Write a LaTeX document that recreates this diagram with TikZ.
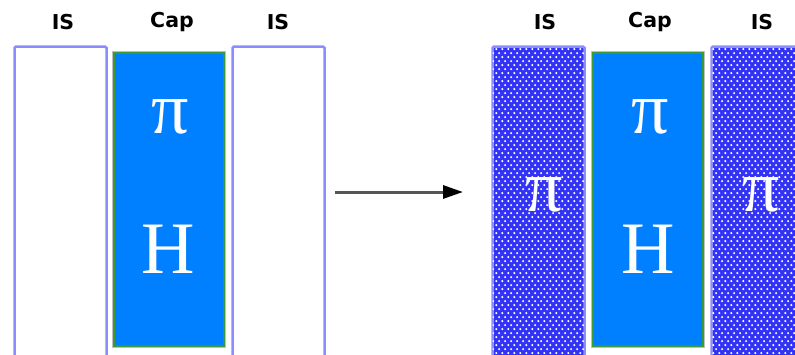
\documentclass[tikz,border=0pt]{standalone}
\usepackage{fontspec}
\usetikzlibrary{patterns,arrows.meta}
\newfontfamily\labelfont{DejaVu Sans}
\newfontfamily\glyphfont{Liberation Serif}
\definecolor{isedge}{HTML}{8C8CFF}
\definecolor{isfill}{HTML}{3333F5}
\definecolor{capfill}{HTML}{0080FF}
\definecolor{capedge}{HTML}{3A9A3A}
\definecolor{arrowgray}{HTML}{555555}

% staggered white dot grid for the filled IS layers
\pgfdeclarepatternformonly{isdots}{\pgfpoint{0pt}{0pt}}{\pgfpoint{6.2pt}{8.4pt}}{\pgfpoint{6.2pt}{8.4pt}}{%
  \pgfpathcircle{\pgfpoint{1.5pt}{2.1pt}}{1.25pt}%
  \pgfpathcircle{\pgfpoint{4.6pt}{6.3pt}}{1.25pt}%
  \pgfusepath{fill}}

\tikzset{
  isbox/.style={draw=isedge, line width=2.5pt, rounded corners=1.5pt, fill=white,
    minimum width=92pt, minimum height=318pt, inner sep=0pt, anchor=north west},
  isdotted/.style={isbox, fill=isfill, postaction={pattern=isdots, pattern color=white}},
  capbox/.style={draw=capedge, line width=2pt, fill=capfill,
    minimum width=110pt, minimum height=293pt, inner sep=0pt, anchor=north west,
    preaction={draw=black!25, line width=4pt}},
  head/.style={font=\labelfont\bfseries\fontsize{20.5}{20.5}\selectfont, inner sep=0pt},
  glyph/.style={font=\glyphfont\fontsize{74}{74}\selectfont, text=white, inner sep=0pt},
  flow/.style={draw=arrowgray, line width=3pt, -{Triangle[length=20pt,width=13pt,fill=black,color=black]}}
}

\begin{document}
\begin{tikzpicture}[x=1pt,y=-1pt]
  \useasboundingbox (0,0) rectangle (795,354);

  % before: plain interlayers around the cap
  \node[isbox]  (isA)  at (13.25,45.25) {};
  \node[capbox] (capA) at (113,52) {};
  \node[isbox]  (isB)  at (231.25,45.25) {};

  \node[head] (hIsA)  at (63,22)  {IS};
  \node[head] (hCapA) at (172,22) {Cap};
  \node[head] (hIsB)  at (278,22) {IS};

  \node[glyph] (piA) at (170,117) {π};
  \node[glyph] (hA)  at (168,249) {H};

  % after: interlayers filled
  \node[isdotted] (isC)  at (491.25,45.25) {};
  \node[capbox]   (capC) at (592,52) {};
  \node[isdotted] (isD)  at (710.25,45.25) {};

  \node[head] (hIsC)  at (545,22) {IS};
  \node[head] (hCapC) at (650,22) {Cap};
  \node[head] (hIsD)  at (762,22) {IS};

  \node[glyph] (piC) at (650,117) {π};
  \node[glyph] (hC)  at (648,249) {H};
  \node[glyph] (piIsC) at (544,195) {π};
  \node[glyph] (piIsD) at (761,195) {π};

  % transition arrow
  \coordinate (arrowFrom) at (335,192);
  \coordinate (arrowTo)   at (463,192);
  \draw[flow] (arrowFrom) -- (arrowTo);
\end{tikzpicture}
\end{document}
